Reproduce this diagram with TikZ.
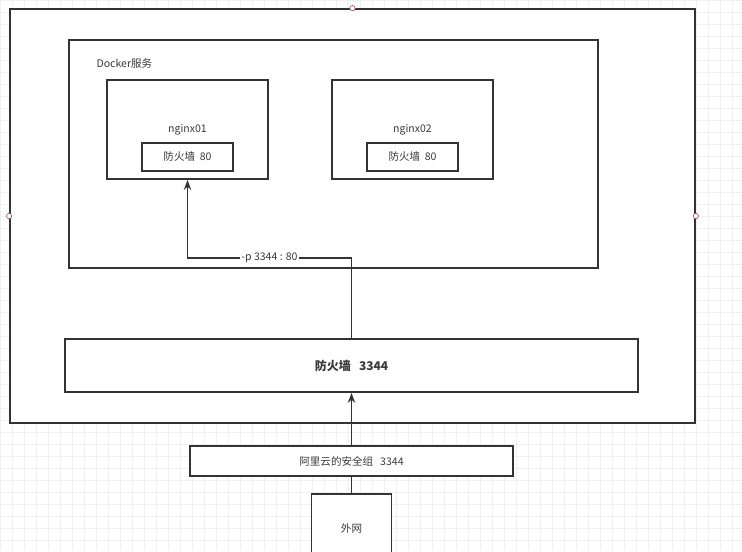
\documentclass[tikz,border=0pt]{standalone}
\usepackage{fontspec}
\setmainfont{Noto Sans CJK SC}
\usetikzlibrary{arrows.meta,positioning}
\definecolor{linegray}{HTML}{333333}
\definecolor{textgray}{HTML}{3A3A3A}
\definecolor{gridgray}{HTML}{F0F0F0}
\definecolor{handlered}{HTML}{A06060}
\tikzset{
>={Stealth[length=7.5pt,width=5.5pt]},
  box/.style={
    rectangle,
    draw=linegray, line width=1.3pt,
    fill=white,
    text=textgray,
    font=\fontsize{7.9}{9}\selectfont,
    inner sep=0pt},
  nginxbox/.style={box,
    minimum width=120.75pt,
    minimum height=74.25pt},
  portbox/.style={box,
    minimum width=68pt,
    minimum height=21pt},
  handle/.style={circle, draw=handlered, fill=white,
    line width=0.5pt, inner sep=0pt, minimum size=4pt},
  line/.style={draw=linegray, line width=1.3pt},
  plain/.style={text=textgray, font=\fontsize{7.9}{9}\selectfont, inner sep=1pt},
}

\begin{document}
\begin{tikzpicture}[x=0.75pt,y=-0.75pt]
  \useasboundingbox (0,0) rectangle (742,551);
  % faint editor grid behind everything
  \draw[gridgray, line width=0.4pt, step=9pt] (0,0) grid (742,551);
  % outer host and docker service
  \node[box, minimum width=513.75pt, minimum height=310.5pt] (host) at (352.5,216) {};
  \node[box, minimum width=396.75pt, minimum height=171pt] (docker) at (333.5,154) {};
  \node[plain, anchor=west] (dockerlbl) at (95,63) {Docker服务};
  %% containers
  \node[nginxbox] (nginx01) at (187.5,129.5) {nginx01};
  \node[nginxbox] (nginx02) at (412.5,129.5) {nginx02};
  \node[portbox] (port01) at ([yshift=-20.6pt]nginx01.center) {防火墙\ \ 80};
  \node[portbox] (port02) at ([yshift=-20.6pt]nginx02.center) {防火墙\ \ 80};
  % firewall, security group, outside net
  \node[box, minimum width=429.75pt, minimum height=39.75pt,
    font=\fontsize{9}{11}\selectfont\bfseries] (fw) at (351.5,365.5) {防火墙\ \ \ 3344};
  \node[box, minimum width=242.25pt, minimum height=22.5pt] (aliyun) at (351.5,461) {阿里云的安全组\ \ \ 3344};
  \node[box, minimum width=60pt, minimum height=51pt] (waiwang) at (351.5,528) {外网};
  % connectors
  \coordinate (turn) at (fw.north |- 0,258);
  \draw[line, ->] (fw.north) -- (turn) -| node[pos=0.25, fill=white, plain] {-p 3344 : 80} (nginx01.south);
  \draw[line, ->] (aliyun.north) -- (fw.south);
  \draw[line] (waiwang.north) -- (aliyun.south);
  % selection handles on the host box
  \node[handle] (htop) at (host.north) {};
  \node[handle] (hleft) at (host.west) {};
  \node[handle] (hright) at (host.east) {};
\end{tikzpicture}
\end{document}
